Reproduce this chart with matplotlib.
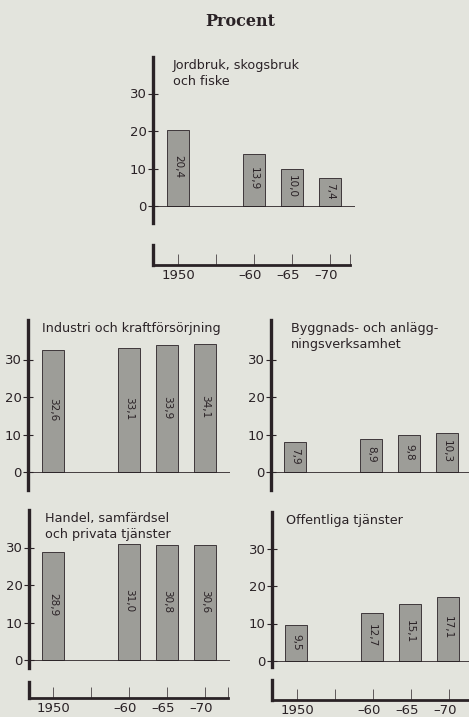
import numpy as np
import matplotlib.pyplot as plt
import matplotlib.transforms as mtransforms

W, H = 469, 717
BG = '#e3e4dd'
INK = '#2a2226'
BAR = '#9d9d98'

years = [1950, 1960, 1965, 1970]

jordbruk = [20.4, 13.9, 10.0, 7.4]
industri = [32.6, 33.1, 33.9, 34.1]
bygg = [7.9, 8.9, 9.8, 10.3]
handel = [28.9, 31.0, 30.8, 30.6]
offentliga = [9.5, 12.7, 15.1, 17.1]

yticks = [0, 10, 20, 30]
xticks = [1950, 1955, 1960, 1965, 1970]
xticklabels = ['1950', '', '\u201360', '\u201365', '\u201370']

XS = 7.6    # px per year
YS = 3.75   # px per percent

plt.rcParams['font.family'] = ['DejaVu Sans']

fig = plt.figure(figsize=(W / 100, H / 100), dpi=100)
fig.patch.set_facecolor(BG)


def pax(x0, x1, ytop, ybot):
    return fig.add_axes([x0 / W, 1 - ybot / H, (x1 - x0) / W, (ybot - ytop) / H])


def panel(x0, x1, ytop, ybot, x1950, zero, title, vals, tdx=16):
    ax = pax(x0, x1, ytop, ybot)
    ax.set_facecolor('none')
    ax.set_xlim(1950 - (x1950 - x0) / XS, 1950 + (x1 - x1950) / XS)
    ax.set_ylim(-(ybot - zero) / YS, (zero - ytop) / YS)
    for s in ['top', 'right', 'bottom']:
        ax.spines[s].set_visible(False)
    ax.spines['left'].set_linewidth(2.4)
    ax.spines['left'].set_color(INK)
    ax.set_yticks(yticks)
    ax.tick_params(axis='y', direction='inout', length=7, width=0.8, color=INK,
                   labelsize=9.5, labelcolor=INK, pad=1)
    ax.set_xticks([])
    ax.axhline(0, color=INK, lw=0.6)
    ax.bar(years, vals, width=2.85, color=BAR, edgecolor=INK, linewidth=0.6)
    for x, v in zip(years, vals):
        ax.text(x, v / 2 + 0.3, ('%.1f' % v).replace('.', ','), rotation=270,
                ha='center', va='center', fontsize=7.5, color=INK)
    fig.text((x0 + tdx) / W, 1 - (ytop + 2) / H, title, ha='left', va='top',
             fontsize=9.2, color=INK, linespacing=1.3)
    return ax


def timeaxis(x0, x1, ytop, ybot, x1950):
    ax = pax(x0, x1, ytop, ybot)
    ax.set_facecolor('none')
    ax.set_xlim(1950 - (x1950 - x0) / XS, 1950 + (x1 - x1950) / XS)
    ax.set_ylim(0, 1)
    for s in ['top', 'right']:
        ax.spines[s].set_visible(False)
    ax.spines['left'].set_linewidth(2.4)
    ax.spines['bottom'].set_linewidth(2.0)
    ax.spines['left'].set_color(INK)
    ax.spines['bottom'].set_color(INK)
    ax.set_yticks([])
    ax.set_xticks(xticks + [ax.get_xlim()[1]])
    ax.set_xticklabels(xticklabels + [''])
    ax.tick_params(axis='x', direction='in', length=8, width=0.5, color=INK,
                   labelsize=9.5, labelcolor=INK, pad=3)
    off = mtransforms.ScaledTranslation(-4 / 100, 0, fig.dpi_scale_trans)
    for lab in ax.get_xticklabels():
        if lab.get_text().startswith('\u2013'):
            lab.set_transform(lab.get_transform() + off)
    return ax


fig.text(240 / W, 1 - 21 / H, 'Procent', ha='center', va='center',
         fontsize=11.5, fontweight='bold', family='DejaVu Serif', color=INK)

panel(153, 355, 57, 223, 178, 206, 'Jordbruk, skogsbruk\noch fiske', jordbruk, tdx=20)
timeaxis(153, 350, 245, 265, 178)

panel(28, 230, 320, 490, 53, 472, 'Industri och kraftförsörjning', industri, tdx=14)
panel(271, 469, 320, 490, 295, 472, 'Byggnads- och anlägg-\nningsverksamhet', bygg, tdx=20)

panel(29, 230, 510, 668, 53, 660, 'Handel, samfärdsel\noch privata tjänster', handel, tdx=16)
panel(272, 469, 512, 667, 296, 661, 'Offentliga tjänster', offentliga, tdx=14)

timeaxis(29, 228, 682, 698, 53)
timeaxis(272, 469, 680, 700, 297)

fig.savefig('out.png', dpi=100, facecolor=BG)
